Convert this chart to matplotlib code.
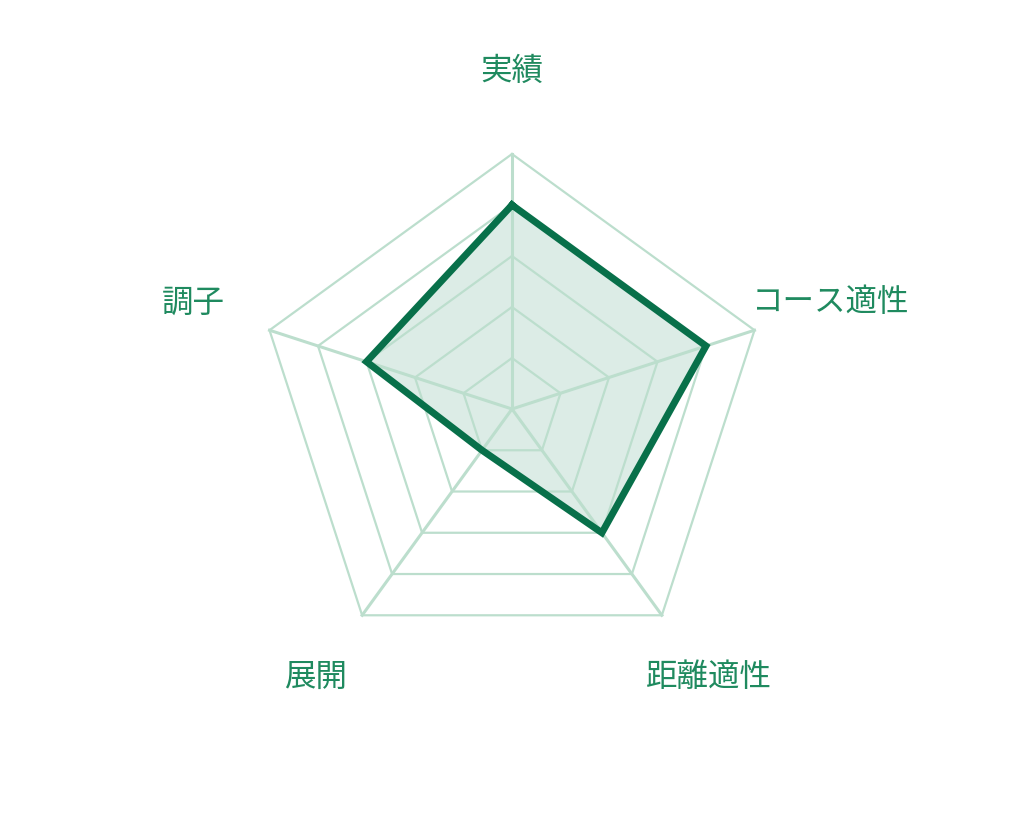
import numpy as np
import matplotlib
matplotlib.use("Agg")
import matplotlib.pyplot as plt

plt.rcParams['font.family'] = ['Noto Sans CJK JP', 'DejaVu Sans']

# 項目と評価値 (5段階)
labels = ['実績', 'コース適性', '距離適性', '展開', '調子']
values = [4, 4, 3, 1, 3]
max_level = 5

line_color = '#08704a'
fill_color = '#0b7a4f'
grid_color = '#bcdecd'
text_color = '#1f8a5f'

n = len(labels)
# 上から時計回り
angles = np.deg2rad(90 - np.arange(n) * 360 / n)

fig = plt.figure(figsize=(10.24, 8.2), dpi=100)
ax = fig.add_axes([0, 0, 1, 1])
ax.set_xlim(-10.04, 10.04)
ax.set_ylim(-8.04, 8.04)
ax.axis('off')

# グリッド (五角形)
for lv in range(1, max_level + 1):
    gx = np.append(lv * np.cos(angles), lv * np.cos(angles[0]))
    gy = np.append(lv * np.sin(angles), lv * np.sin(angles[0]))
    ax.plot(gx, gy, color=grid_color, lw=1.6, zorder=3)

# 軸線
for a in angles:
    ax.plot([0, max_level * np.cos(a)], [0, max_level * np.sin(a)],
            color=grid_color, lw=2.2, zorder=3)

# データ
vals = np.array(values, dtype=float)
px = np.append(vals * np.cos(angles), vals[0] * np.cos(angles[0]))
py = np.append(vals * np.sin(angles), vals[0] * np.sin(angles[0]))
ax.fill(px, py, color=fill_color, alpha=0.14, lw=0, zorder=2)
ax.plot(px, py, color=line_color, lw=5, solid_joinstyle='miter', zorder=4)

# ラベル
label_r = 6.57
for lab, a in zip(labels, angles):
    ax.text(label_r * np.cos(a), label_r * np.sin(a) + 0.08, lab,
            ha='center', va='center', fontsize=22.7, color=text_color)

fig.savefig('out.png', dpi=100)
